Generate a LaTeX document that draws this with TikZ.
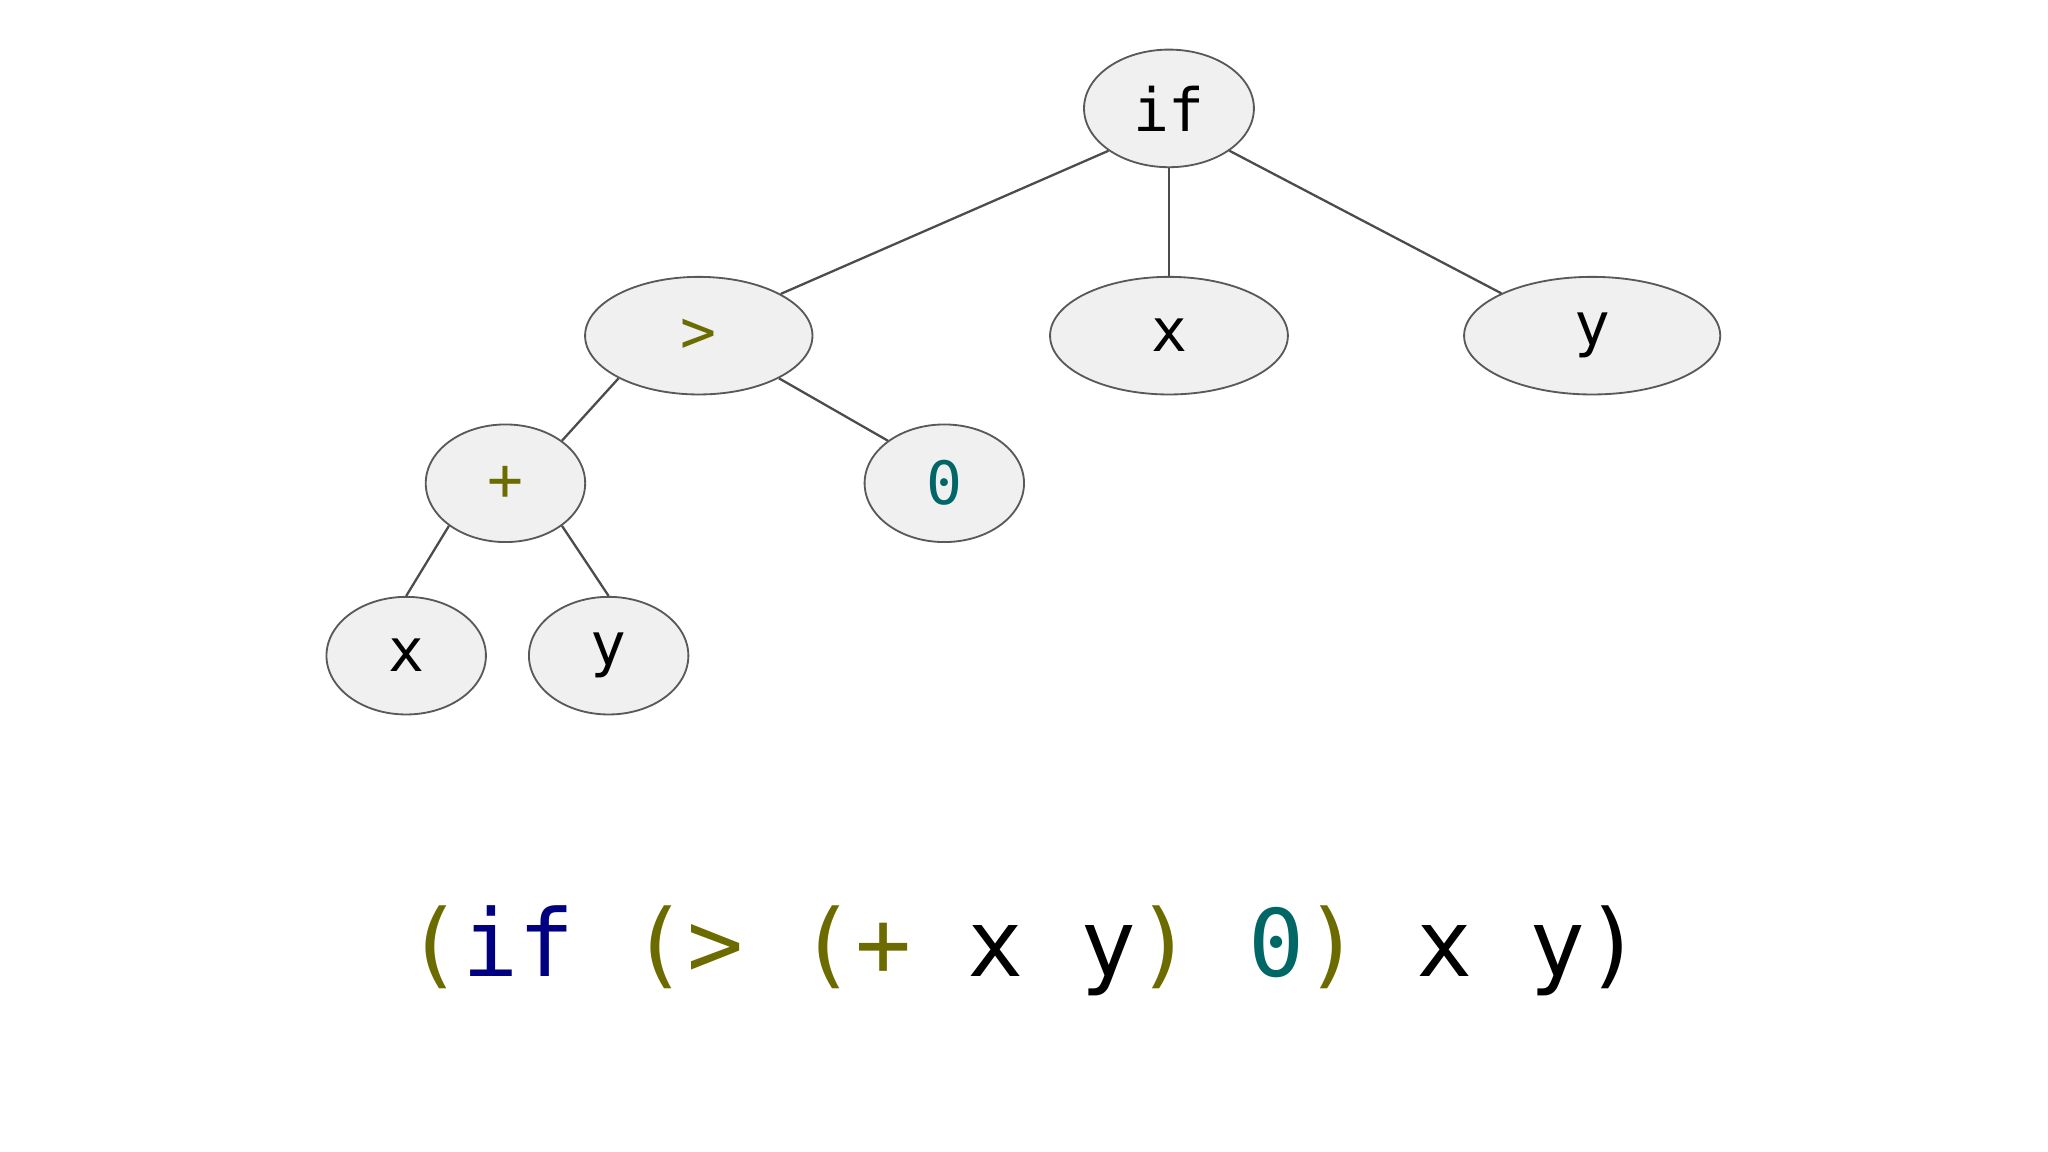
\documentclass[tikz,border=0pt]{standalone}
\usepackage{fontspec}
\setmonofont{DejaVu Sans Mono}
\usetikzlibrary{shapes.geometric}
\definecolor{olivec}{HTML}{6B6B00}
\definecolor{navyc}{HTML}{000080}
\definecolor{tealc}{HTML}{006666}
\tikzset{
  tnode/.style={ellipse,draw=black!65,fill=black!6,inner sep=0pt,
    minimum height=0.9cm,font=\ttfamily\fontsize{13}{13}\selectfont},
  edge/.style={draw=black!70,line width=0.5pt}
}
\begin{document}
\begin{tikzpicture}[x=0.01cm,y=-0.01cm]
    \useasboundingbox (0,0) rectangle (1568,882);
    % Tree nodes
    \node[tnode,minimum width=1.30cm] (if) at (895,83) {if};
    \node[tnode,minimum width=1.74cm,text=olivec] (gt) at (535,257) {>};
    \node[tnode,minimum width=1.82cm] (x1) at (895,257) {x};
    \node[tnode,minimum width=1.96cm] (y1) at (1219,257) {y};
    \node[tnode,minimum width=1.22cm,text=olivec] (plus) at (387,370) {+};
    \node[tnode,minimum width=1.22cm,text=tealc] (zero) at (723,370) {0};
    \node[tnode,minimum width=1.22cm] (x2) at (311,502) {x};
    \node[tnode,minimum width=1.22cm] (y2) at (466,502) {y};

    % Edges
    \draw[edge] (if.-145) -- (gt.27);
    \draw[edge] (if) -- (x1);
    \draw[edge] (if.-35) -- (y1.155);
    \draw[edge] (gt.-152) -- (plus.37);
    \draw[edge] (gt.-28) -- (zero.143);
    \draw[edge] (plus.-143) -- (x2.90);
    \draw[edge] (plus.-37) -- (y2.90);

    % Expression
    \node[font=\ttfamily\fontsize{20.3}{20.3}\selectfont,anchor=base] (expr) at (784,748)
      {\textcolor{olivec}{(}\textcolor{navyc}{if} \textcolor{olivec}{(>} \textcolor{olivec}{(+} x y\textcolor{olivec}{)} \textcolor{tealc}{0}\textcolor{olivec}{)} x y)};
\end{tikzpicture}
\end{document}
